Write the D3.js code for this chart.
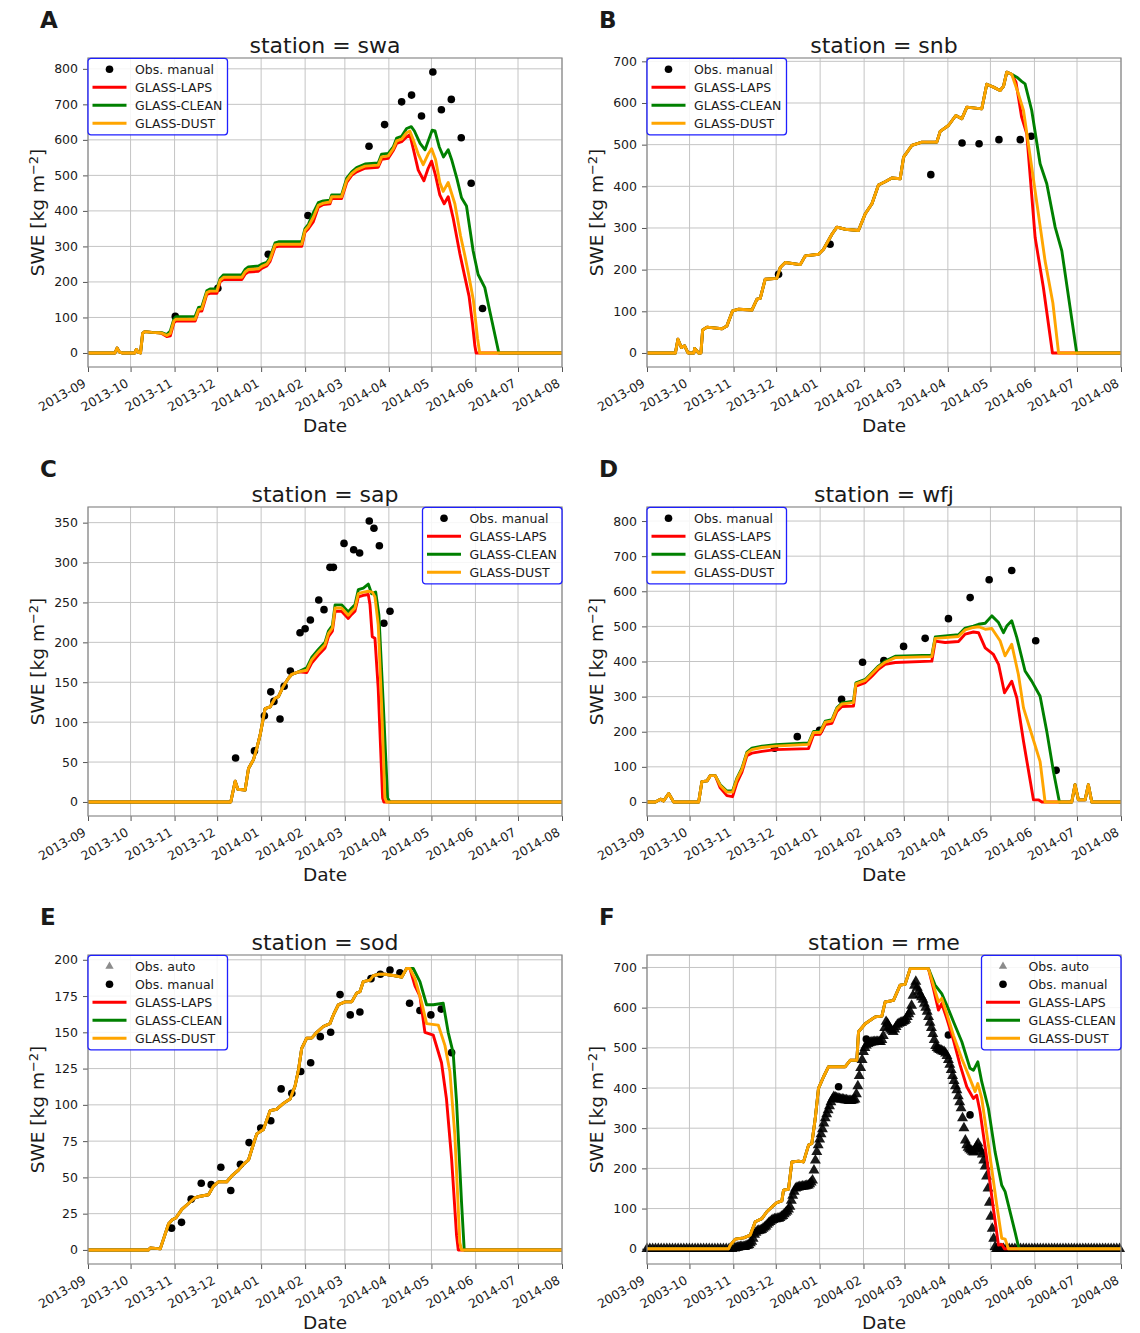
<!DOCTYPE html>
<html>
<head>
<meta charset="utf-8">
<title>SWE at six stations</title>
<script src="https://cdn.jsdelivr.net/npm/d3@7"></script>
<style>
  body { margin: 0; background: #fff; }
  text { font-family: 'DejaVu Sans', sans-serif; fill: #1a1a1a; }
</style>
</head>
<body>
<svg id="mainsvg" width="1140" height="1333"></svg>
<script>
// every series: [days since 1 Sep of the season start, SWE kg m-2]
const letters = ['A', 'B', 'C', 'D', 'E', 'F'];
const stations = ['swa', 'snb', 'sap', 'wfj', 'sod', 'rme'];
const seasonStart = [2013, 2013, 2013, 2013, 2013, 2003];
const seriesNames = ['GLASS-LAPS', 'GLASS-CLEAN', 'GLASS-DUST'];
const seriesColors = ['red', 'green', 'orange'];

// --- swa
const swaTicks = [0, 100, 200, 300, 400, 500, 600, 700, 800];
const swaEarly = [[0,0],[19,0],[20.5,14],[22,3],[24,0],[33,0],[34,10],[35.5,2],[37,0],[38.5,55],[40,60],[45,58],[50,57]];
const swaLaps = swaEarly.concat([[52,55],[55.5,46],[58,48],[60.5,85],[62,90],[75.5,90],[77.9,118],[80.2,118],[83.7,165],[86,168],[90.8,168],[93.1,200],[95.5,207],[108.4,207],[110.7,222],[113,228],[120.1,230],[122.4,238],[126,245],[128.3,258],[131.8,298],[134.2,300],[150.6,300],[152.9,340],[155.3,350],[158.8,370],[162.3,410],[165.8,418],[170.5,420],[171.7,435],[178.7,435],[182.3,480],[185.8,500],[189.3,510],[195.2,520],[204.5,523],[206.9,545],[211.6,548],[215.1,570],[217.5,590],[221,595],[224.5,608],[226.8,615],[229.2,575],[232.7,515],[236.7,485],[239.7,520],[242.1,540],[244.9,500],[247.9,445],[251,420],[253.8,440],[257.3,380],[262,280],[265.5,215],[268.5,160],[271,80],[272.6,20],[273.5,0],[334,0]]);
const swaClean = swaEarly.concat([[52,57],[55.5,52],[58,62],[60.5,95],[62,102],[75.5,103],[77.9,128],[80.2,130],[83.7,175],[86,180],[90.8,180],[93.1,210],[95.5,220],[108.4,220],[110.7,235],[113,242],[120.1,245],[122.4,250],[126,255],[128.3,270],[131.8,310],[134.2,313],[150.6,313],[152.9,350],[155.3,362],[158.8,395],[162.3,423],[165.8,428],[170.5,430],[171.7,445],[178.7,445],[182.3,492],[185.8,510],[189.3,522],[195.2,532],[204.5,535],[206.9,560],[211.6,562],[215.1,580],[217.5,605],[221,610],[224.5,632],[227.8,637],[230,625],[234,590],[237.5,572],[240,600],[242.5,627],[244.5,625],[247.5,580],[250.5,552],[253.8,572],[256.2,545],[260,490],[263.2,437],[266.7,414],[271.4,287],[274.9,221],[279.6,184],[283.1,118],[289.5,0],[334,0]]);
const swaDust = swaEarly.concat([[52,56],[55.5,49],[58,55],[60.5,90],[62,95],[75.5,95],[77.9,122],[80.2,124],[83.7,170],[86,174],[90.8,174],[93.1,205],[95.5,213],[108.4,213],[110.7,228],[113,235],[120.1,237],[122.4,244],[126,250],[128.3,264],[131.8,304],[134.2,306],[150.6,306],[152.9,345],[155.3,356],[158.8,382],[162.3,416],[165.8,422],[170.5,425],[171.7,440],[178.7,440],[182.3,486],[185.8,505],[189.3,516],[195.2,526],[204.5,529],[206.9,552],[211.6,555],[215.1,575],[217.5,597],[221,602],[224.5,620],[226.8,625],[229.2,600],[232.7,560],[236.2,530],[239.7,560],[242.1,575],[244.9,545],[247.9,480],[250.3,455],[253.8,480],[258.5,420],[262.5,330],[265.5,275],[268,225],[271.5,150],[274.5,40],[276,0],[334,0]]);
const swaObs = [[61.5,103],[91.5,182],[127,278],[155,387],[198,582],[209,643],[221,707],[228,726],[235,667],[243,791],[249,685],[256,714],[263,606],[270,478],[278,125]];

// --- snb
const snbTicks = [0, 100, 200, 300, 400, 500, 600, 700];
const snbCommon = [[0,0],[20,0],[21.8,33],[24.2,13],[26.5,17],[28.9,0],[33,0],[33.6,11],[36.4,0],[38,0],[39.2,55],[42.3,62],[52.8,58],[56.3,65],[60.3,101],[64.6,105],[73.9,103],[77.5,129],[79.8,131],[83.3,177],[91.5,179],[93.9,205],[97.4,217],[108,212],[111.5,233],[120.9,237],[124.4,249],[130.3,285],[133.8,302],[139.7,297],[149,294],[153.8,334],[158.5,358],[163.1,403],[167.8,411],[172.5,420],[178.4,418],[180.8,470],[186.6,498],[193.7,506],[204.2,506],[206.6,532],[212.4,546],[217.6,570],[221.8,562],[225.4,590],[235.9,586],[239.4,645],[244.1,638],[248.8,630],[251.2,640],[253.5,674],[257,669]];
const snbLaps = snbCommon.concat([[260,650],[264,566],[267.6,526],[273.5,277],[279.3,157],[285.7,0],[334,0]]);
const snbClean = snbCommon.concat([[260.6,662],[264,652],[266.4,646],[271.1,582],[277,454],[281.7,406],[287.6,302],[292.3,245],[302.8,0],[334,0]]);
const snbDust = snbCommon.concat([[261.7,622],[265.3,582],[271.1,446],[280.5,221],[286,120],[290,0],[334,0]]);
const snbObs = [[92.7,189],[129,261],[200,428],[222,504],[234,502],[248,512],[263,512],[270.7,520]];

// --- sap
const sapTicks = [0, 50, 100, 150, 200, 250, 300, 350];
const sapEarly = [[0,0],[100.6,0],[103.7,26],[105.6,16],[110.7,15],[113.1,42],[116.6,53],[118.9,67],[121.3,84],[124.8,117],[128.3,119],[131.8,130],[134.2,132],[137.7,145],[141.2,155],[143.6,160],[148.3,163]];
const sapLaps = sapEarly.concat([[154.1,162],[157.6,174],[162.3,184],[167,193],[169.4,207],[172.2,214],[174.1,239],[178.7,239],[183.4,230],[185.8,235],[188.1,239],[190.5,257],[194,259],[197.5,260],[198.7,247],[200.3,207],[202.2,205],[204.5,142],[207.6,5],[208.5,0],[334,0]]);
const sapClean = sapEarly.concat([[154.1,168],[157.6,181],[162.3,191],[167,200],[169.4,214],[172.2,221],[174.1,247],[178.7,247],[183.4,238],[185.8,243],[188.1,247],[190.5,266],[194,268],[197.5,273],[199.9,261],[202.7,263],[205,234],[208.1,121],[211.1,5],[212.8,0],[334,0]]);
const sapDust = sapEarly.concat([[154.1,165],[157.6,178],[162.3,188],[167,197],[169.4,211],[172.2,218],[174.1,243],[178.7,243],[183.4,234],[185.8,239],[188.1,243],[190.5,261],[194,263],[197.5,264],[200.3,263],[202.2,257],[204.5,222],[206.9,121],[209.2,5],[210.4,0],[334,0]]);
const sapObs = [[104,55],[117.3,64],[124.3,108],[128.8,138],[131,126],[135.3,104],[138.2,145],[142.6,164],[149.4,212],[153,217],[156.7,228],[162.6,253],[166.3,241],[170.5,294],[172.9,294],[180.4,324],[187.2,316],[191.4,312],[198.2,352],[201.5,343],[205.3,321],[208.5,224],[212.8,239]];

// --- wfj
const wfjTicks = [0, 100, 200, 300, 400, 500, 600, 700, 800];
const wfjEarly = [[0,0],[5.9,0],[9.4,8],[11.7,3],[15.3,24],[18.8,0],[36.4,0],[38.7,58],[42.3,60],[44.6,75],[48.1,75]];
const wfjTail = [[299.3,0],[301.6,49],[304,6],[308.7,6],[311,49],[313.4,0],[334,0]];
const wfjLaps = wfjEarly.concat([[51.6,40],[56.3,18],[60.3,15],[63.4,55],[66.9,85],[70.4,132],[73.9,139],[81,144],[90.4,149],[113.8,152],[117.4,192],[122.1,193],[125.6,220],[130.3,224],[133.8,258],[137.3,272],[145.5,273],[147.2,330],[153.8,340],[158.5,358],[163.1,378],[167.8,392],[174.9,397],[200.7,401],[203.1,458],[210.1,454],[219.5,457],[224.2,478],[230,484],[233.6,482],[238.3,439],[244.1,420],[247.7,392],[251.9,311],[257,344],[260.6,296],[265.3,173],[272.3,6],[275.8,6],[278.2,0]], wfjTail);
const wfjClean = wfjEarly.concat([[51.6,49],[56.3,31],[60.3,31],[63.4,68],[66.9,96],[70.4,142],[73.9,153],[81,159],[90.4,163],[113.8,168],[117.4,201],[122.1,201],[125.6,230],[130.3,234],[133.8,268],[137.3,282],[145.5,287],[147.2,339],[153.8,349],[158.5,368],[163.1,387],[167.8,401],[174.9,415],[200.7,418],[203.1,470],[210.1,473],[219.5,476],[224.2,495],[230,501],[233.6,506],[238.3,509],[243,530],[247.7,511],[251.2,482],[253.5,501],[257,516],[260.6,468],[266.4,373],[271.1,344],[277,301],[281.7,201],[286.4,87],[290.6,0]], wfjTail);
const wfjDust = wfjEarly.concat([[51.6,47],[56.3,28],[60.3,28],[63.4,65],[66.9,93],[70.4,139],[73.9,149],[81,155],[90.4,159],[113.8,164],[117.4,198],[122.1,198],[125.6,227],[130.3,231],[133.8,265],[137.3,279],[145.5,283],[147.2,336],[153.8,346],[158.5,365],[163.1,384],[167.8,398],[174.9,411],[200.7,414],[203.1,466],[210.1,468],[219.5,471],[224.2,490],[230,497],[233.6,499],[238.3,492],[243,494],[248.8,459],[252.3,416],[257,449],[261.7,363],[265.3,268],[271.1,192],[277,115],[280.5,0]], wfjTail);
const wfjObs = [[89.9,153],[105.9,186],[121.6,204],[137.1,292],[151.9,398],[166.9,403],[180.8,443],[196,466],[212.4,522],[227.7,582],[241.1,633],[257,659],[273.9,459],[288.3,90]];

// --- sod
const sodTicks = [0, 25, 50, 75, 100, 125, 150, 175, 200];
const sodCommon = [[0,0],[42.7,0],[43.9,1.4],[50.9,0.7],[56.8,18],[59.6,21],[61.9,22],[66.1,28],[70.8,32],[75.5,36],[79.1,37],[84.9,38],[88.4,44],[92,47],[97.8,47],[101.3,51],[106,55],[109.5,59],[113.1,62],[116.6,73],[118.9,80],[123.6,83],[128.3,96],[133,97],[137.7,101],[142.4,104],[145.9,113],[148.3,124],[150.6,139],[154.1,146],[157.6,146],[161.2,150],[165.8,154],[170.5,156],[172.9,162],[176.4,169],[181.1,171],[185.8,171],[189.3,177],[191.6,178],[194,185],[198.7,186],[201,189],[204.5,190],[209.2,190],[216.3,189],[221,188],[224.5,194],[226.8,194]];
const sodLaps = sodCommon.concat([[230.4,182],[233.9,175],[237.4,150],[243.3,148],[249.1,129],[252.6,104],[256.2,63],[259.7,10],[260.9,0],[334,0]]);
const sodClean = sodCommon.concat([[229.2,194],[233.9,185],[238.6,169],[243.3,169],[250.3,170],[253.8,150],[257.3,136],[259.7,102],[263.2,33],[265.1,0],[334,0]]);
const sodDust = sodCommon.concat([[230.4,187],[235,171],[238.6,156],[246.8,155],[251.5,141],[255,123],[258.5,79],[262,5],[263.2,0],[334,0]]);
const sodObs = [[58.9,15],[65.9,19],[72.7,35],[79.8,46],[86.8,45],[93.6,57],[100.6,41],[107.4,59],[113.5,74],[121.7,84],[128.8,89],[136.1,111],[143.6,108],[149.9,123],[156.9,129],[163.7,147],[171,150],[177.6,176],[184.8,162],[191.6,164],[199.4,187],[206,190],[212.8,193],[219.8,191],[226.6,170],[233.9,165],[241.6,162],[248.9,166],[256.2,136]];
const sodAuto = [];

// --- rme
const rmeTicks = [0, 100, 200, 300, 400, 500, 600, 700];
const rmeCommon = [[0,0],[57.7,0],[58.9,9],[62.4,24],[68.3,27],[73,34],[76.5,67],[81.2,75],[84.7,92],[88.3,104],[91.8,115],[95.3,119],[96.5,146],[100,148],[102.4,216],[107.1,218],[110.6,216],[114.2,258],[116.5,262],[118.9,324],[121.2,399],[124.8,428],[128.3,453],[140.1,453],[143.6,469],[148.3,469],[149.5,540],[154.2,560],[161.3,577],[166,579],[168.3,614],[174.2,618],[178.9,656],[182.4,658],[186,697],[198.9,697]];
const rmeLaps = rmeCommon.concat([[202.4,648],[206,594],[208.3,610],[211.9,573],[216.6,519],[221.3,457],[226,403],[230.7,374],[233,382],[235.4,341],[240.1,225],[244.8,100],[248.4,9],[250.7,11],[252.6,0],[335,0]]);
const rmeClean = rmeCommon.concat([[203.6,656],[208.3,635],[211.9,606],[216.6,565],[222.5,515],[228.3,449],[230.7,444],[233.8,465],[236.6,415],[241.3,349],[246,241],[250.7,158],[253.1,142],[255.4,109],[260.1,42],[262.9,0],[335,0]]);
const rmeDust = rmeCommon.concat([[202.4,656],[206,614],[208.3,623],[211.9,585],[216.6,531],[222.5,473],[227.2,432],[231.9,391],[233.8,411],[236.6,374],[241.3,258],[247.2,109],[250.7,26],[253.1,24],[255.4,0],[335,0]]);
const rmeObs = [[135.4,403],[155,522],[213,532],[228.3,333]];
const rmeAuto = [[0,0],[2,0],[4,0],[6,0],[8,0],[10,0],[12,0],[14,0],[16,0],[18,0],[20,0],[22,0],[24,0],[26,0],[28,0],[30,0],[32,0],[34,0],[36,0],[38,0],[40,0],[42,0],[44,0],[46,0],[48,0],[50,0],[52,0],[54,0],[56,0],[58,0],[60,0],
  [62,1],[63,2],[64,3],[65,4],[66,5],[67,5],[68,5],[69,5],[70,7],[71,8],[72,10],[73,14],[74,18],[75,25],[76,35],[77,40],[78,44],[79,45],[80,46],[81,47],[82,50],[83,53],[84,56],[85,60],[86,64],[87,67],[88,70],[89,72],[90,74],[91,74],[92,75],[93,75],[94,77],[95,80],[96,82],[97,86],[98,90],[99,93],[100,98],[101,105],[102,120],[103,132],[104,142],[105,150],[106,152],[107,153],[108,154],[109,154],[110,155],[111,155],[112,156],[113,157],[114,158],[115,161],[116,165],[117,170],[118,195],[119,220],[120,241],[121,258],[122,272],[123,285],[124,298],[125,312],[126,325],[127,335],[128,345],[129,355],[130,365],[131,372],[132,378],[133,377],[134,375],[135,374],[136,373],[137,372],[138,372],[139,371],[140,370],[141,370],[142,369],[143,368],[144,368],[145,369],[146,370],[147,372],[148,385],[149,405],[150,430],[151,450],[152,470],[153,490],[154,500],[155,506],[156,510],[157,512],[158,513],[159,514],[160,514],[161,515],[162,515],[163,515],[164,515],[165,515],[166,520],[167,530],[168,550],[169,565],[170,560],[171,552],[172,546],[173,543],[174,540],[175,546],[176,552],[177,558],[178,560],[179,562],[180,563],[181,565],[182,567],[183,570],[184,577],[185,584],[186,590],[187,605],[188,630],[189,655],[190,665],[191,650],[192,640],[193,632],[194,626],[195,620],[196,610],[197,600],[198,590],[199,577],[200,563],[201,550],[202,535],[203,520],[204,505],[205,500],[206,497],[207,495],[208,493],[209,491],[210,490],[211,486],[212,480],[213,470],[214,458],[215,445],[216,430],[217,418],[218,405],[219,395],[220,380],[221,365],[222,350],[223,325],[224,300],[225,270],[226,258],[227,252],[228,248],[229,245],[230,242],[231,240],[232,248],[233,255],[234,262],[235,250],[236,242],[237,235],[238,220],[239,205],[240,180],[241,150],[242,115],[243,80],[244,50],[245,25],[246,5],[247,0],[248,0],
  [250,0],[252,0],[254,0],[256,0],[258,0],[260,0],[262,0],[264,0],[266,0],[268,0],[270,0],[272,0],[274,0],[276,0],[278,0],[280,0],[282,0],[284,0],[286,0],[288,0],[290,0],[292,0],[294,0],[296,0],[298,0],[300,0],[302,0],[304,0],[306,0],[308,0],[310,0],[312,0],[314,0],[316,0],[318,0],[320,0],[322,0],[324,0],[326,0],[328,0],[330,0],[332,0],[334,0]];

const panels = [
  { series: [swaLaps, swaClean, swaDust], obs: swaObs, auto: null, ticks: swaTicks, yDomain: [-39.5, 830.5], legendRight: false },
  { series: [snbLaps, snbClean, snbDust], obs: snbObs, auto: null, ticks: snbTicks, yDomain: [-33.7, 708], legendRight: false },
  { series: [sapLaps, sapClean, sapDust], obs: sapObs, auto: null, ticks: sapTicks, yDomain: [-17.6, 369.6], legendRight: true },
  { series: [wfjLaps, wfjClean, wfjDust], obs: wfjObs, auto: null, ticks: wfjTicks, yDomain: [-40, 840], legendRight: false },
  { series: [sodLaps, sodClean, sodDust], obs: sodObs, auto: sodAuto, ticks: sodTicks, yDomain: [-9.7, 203.3], legendRight: false },
  { series: [rmeLaps, rmeClean, rmeDust], obs: rmeObs, auto: rmeAuto, ticks: rmeTicks, yDomain: [-38, 731], legendRight: true }
];

const svg = d3.select('#mainsvg');
const plotW = 474, plotH = 309;
const colLeft = [88, 647];
const rowTop = [58, 507, 955];
const triangle = d3.symbol().type(d3.symbolTriangle).size(52);
const smallTriangle = d3.symbol().type(d3.symbolTriangle).size(30);

panels.forEach((p, i) => {
  const left = colLeft[i % 2], top = rowTop[Math.floor(i / 2)];
  const g = svg.append('g').attr('transform', `translate(${left},${top})`);
  const yr = seasonStart[i];
  const start = new Date(Date.UTC(yr, 8, 1));
  const end = new Date(Date.UTC(yr + 1, 7, 1));
  const toDate = d => new Date(start.getTime() + d * 864e5);

  const x = d3.scaleUtc().domain([start, end]).range([0, plotW]);
  const y = d3.scaleLinear().domain(p.yDomain).range([plotH, 0]);
  const months = d3.utcMonth.range(start, d3.utcDay.offset(end, 1));

  // grid
  g.append('g').attr('class', 'grid')
    .selectAll('line.v').data(months).join('line')
    .attr('x1', d => x(d)).attr('x2', d => x(d)).attr('y1', 0).attr('y2', plotH)
    .attr('stroke', '#c4c4c4').attr('stroke-width', 1);
  g.append('g').attr('class', 'grid')
    .selectAll('line.h').data(p.ticks).join('line')
    .attr('x1', 0).attr('x2', plotW).attr('y1', d => y(d)).attr('y2', d => y(d))
    .attr('stroke', '#c4c4c4').attr('stroke-width', 1);

  // axes
  const xAxis = d3.axisBottom(x).tickValues(months).tickFormat(d3.utcFormat('%Y-%m')).tickSize(5);
  const xg = g.append('g').attr('transform', `translate(0,${plotH})`).call(xAxis);
  xg.select('.domain').remove();
  xg.selectAll('.tick line').attr('stroke', '#555');
  xg.selectAll('.tick text')
    .attr('y', 0).attr('dy', '0.71em')
    .attr('text-anchor', 'end')
    .attr('transform', 'translate(-6,11) rotate(-30)')
    .attr('font-size', 12.5).attr('font-family', 'DejaVu Sans').attr('fill', '#1a1a1a');

  const yAxis = d3.axisLeft(y).tickValues(p.ticks).tickSize(5).tickPadding(5);
  const yg = g.append('g').call(yAxis);
  yg.select('.domain').remove();
  yg.selectAll('.tick line').attr('stroke', '#555');
  yg.selectAll('.tick text').attr('font-size', 12.5).attr('font-family', 'DejaVu Sans').attr('fill', '#1a1a1a');

  // observations
  if (p.auto) {
    g.append('g').selectAll('path').data(p.auto).join('path')
      .attr('d', triangle)
      .attr('transform', d => `translate(${x(toDate(d[0]))},${y(d[1])})`)
      .attr('fill', 'black').attr('fill-opacity', 0.9);
  }
  g.append('g').selectAll('circle').data(p.obs).join('circle')
    .attr('cx', d => x(toDate(d[0]))).attr('cy', d => y(d[1]))
    .attr('r', 3.8).attr('fill', 'black');

  // model lines
  const line = d3.line().x(d => x(toDate(d[0]))).y(d => y(d[1]));
  p.series.forEach((s, k) => {
    g.append('path').datum(s).attr('d', line)
      .attr('fill', 'none').attr('stroke', seriesColors[k])
      .attr('stroke-width', 2.9).attr('stroke-linejoin', 'round');
  });

  // frame
  g.append('rect').attr('width', plotW).attr('height', plotH)
    .attr('fill', 'none').attr('stroke', '#8a8a8a').attr('stroke-width', 1.2);

  // texts
  g.append('text').text(`station = ${stations[i]}`)
    .attr('x', plotW / 2).attr('y', -5).attr('text-anchor', 'middle').attr('font-size', 22);
  g.append('text').text('Date')
    .attr('x', plotW / 2).attr('y', plotH + 65).attr('text-anchor', 'middle').attr('font-size', 18.5);
  const yl = g.append('text')
    .attr('transform', `translate(-44,${plotH / 2}) rotate(-90)`)
    .attr('text-anchor', 'middle').attr('font-size', 18.5);
  yl.append('tspan').text('SWE [kg m');
  yl.append('tspan').text('\u22122').attr('font-size', 13).attr('dy', '-0.45em');
  yl.append('tspan').text(']').attr('dy', '0.32em');
  g.append('text').text(letters[i])
    .attr('x', -48).attr('y', -30).attr('font-size', 23).attr('font-weight', 'bold').attr('fill', '#000');

  // legend
  const items = [];
  if (p.auto) items.push({ name: 'Obs. auto', type: 'tri' });
  items.push({ name: 'Obs. manual', type: 'dot' });
  seriesNames.forEach((n, k) => items.push({ name: n, type: 'line', color: seriesColors[k] }));
  const lw = 139.5;
  const lx = p.legendRight ? plotW - lw : 0;
  const lg = g.append('g').attr('transform', `translate(${lx},0.3)`);
  lg.append('rect').attr('width', lw).attr('height', 22.5 + (items.length - 1) * 18)
    .attr('rx', 3).attr('fill', 'white').attr('fill-opacity', 0.85)
    .attr('stroke', '#1f1fff').attr('stroke-width', 1.3);
  items.forEach((it, k) => {
    const cy = 11 + k * 18;
    if (it.type === 'dot') {
      lg.append('circle').attr('cx', 21.5).attr('cy', cy).attr('r', 3.8).attr('fill', 'black');
    } else if (it.type === 'tri') {
      lg.append('path').attr('d', smallTriangle).attr('transform', `translate(21.5,${cy})`)
        .attr('fill', 'black').attr('fill-opacity', 0.45);
    } else {
      lg.append('line').attr('x1', 4.5).attr('x2', 38.5).attr('y1', cy).attr('y2', cy)
        .attr('stroke', it.color).attr('stroke-width', 2.9);
    }
    lg.append('text').text(it.name).attr('x', 47).attr('y', cy).attr('dy', '0.36em')
      .attr('font-size', 12.5);
  });
});
</script>
</body>
</html>
